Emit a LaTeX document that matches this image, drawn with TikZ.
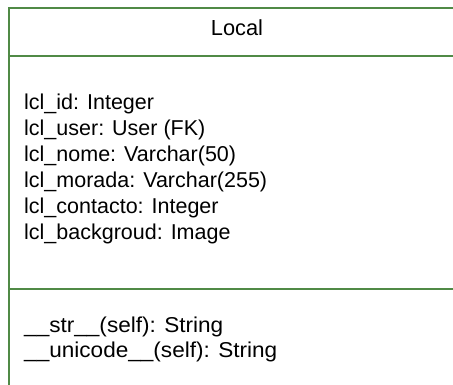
\documentclass[tikz,border=0pt]{standalone}
\usepackage{fontspec}
\setmainfont{Liberation Sans}
\definecolor{umlgreen}{RGB}{80,138,70}
\tikzset{
  umlline/.style={draw=umlgreen, line width=2.5pt},
  member/.style={anchor=base west, inner sep=0pt, font=\fontsize{21.5}{26}\selectfont},
  method/.style={member, font=\fontsize{21.5}{26}\selectfont\addfontfeatures{FakeStretch=1.05}},
  classname/.style={anchor=base, inner sep=0pt, font=\fontsize{21.8}{26}\selectfont},
}
\begin{document}
\begin{tikzpicture}[x=1pt, y=-1pt]
  \useasboundingbox (0,0) rectangle (453,385);
  \fill[white] (0,0) rectangle (453,385);
  \clip (0,0) rectangle (453,385);
  % class box and compartment dividers
  \draw[umlline] (9,8) rectangle (480,400);
  \draw[umlline] (9,56) -- (480,56);
  \draw[umlline] (9,289) -- (480,289);
  % class name
  \node[classname] (title) at (237,36) {Local};
  % attributes
  \node[member] (a1) at (24,110) {lcl\_id: Integer};
  \node[member] (a2) at (24,136) {lcl\_user: User (FK)};
  \node[member] (a3) at (24,162) {lcl\_nome: Varchar(50)};
  \node[member] (a4) at (24,188) {lcl\_morada: Varchar(255)};
  \node[member] (a5) at (24,214) {lcl\_contacto: Integer};
  \node[member] (a6) at (24,240) {lcl\_backgroud: Image};
  % methods
  \node[method] (m1) at (24,332) {\_\_str\_\_(self): String};
  \node[method] (m2) at (24,357) {\_\_unicode\_\_(self): String};
\end{tikzpicture}
\end{document}
